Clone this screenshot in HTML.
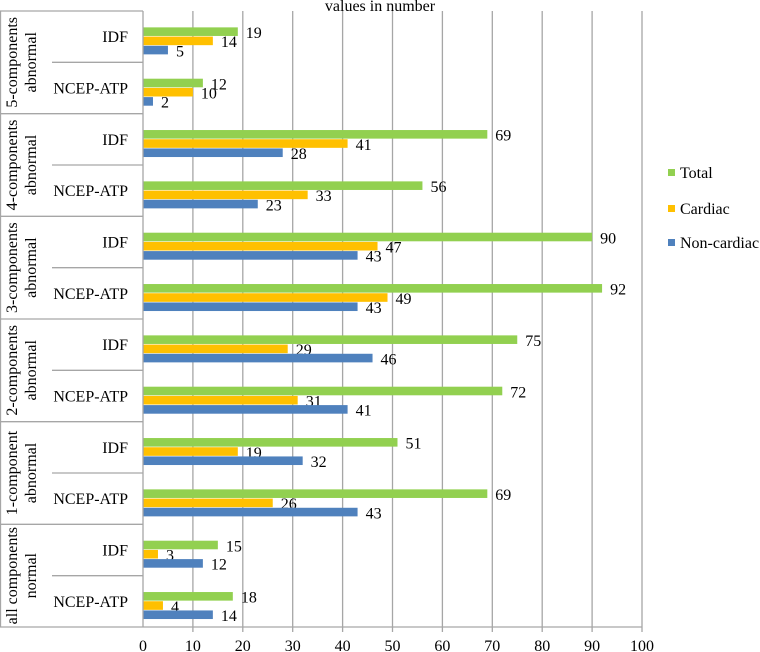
<!DOCTYPE html>
<html><head><meta charset="utf-8"><style>
body{margin:0;background:#fff;}
svg, svg text{font-family:"Liberation Serif","Times New Roman",serif;}
svg{display:block;}
</style></head><body>
<svg id="chart" width="760" height="652" viewBox="0 0 760 652" xmlns="http://www.w3.org/2000/svg" font-family="Liberation Serif, serif">
<text x="380" y="11" text-anchor="middle" font-size="16">values in number</text>
<g id="grid"></g><g id="cats"></g><g id="bars"></g><g id="axis"></g>
<g>
<rect x="668" y="169" width="7" height="7" fill="#92d050"/>
<text x="680" y="178" font-size="16">Total</text>
<rect x="668" y="205" width="7" height="7" fill="#ffc000"/>
<text x="680" y="214" font-size="16">Cardiac</text>
<rect x="668" y="239" width="7" height="7" fill="#4f81bd"/>
<text x="680" y="248" font-size="16">Non-cardiac</text>
</g>
</svg>
<script>
const groups=[["5-components","abnormal"],["4-components","abnormal"],["3-components","abnormal"],["2-components","abnormal"],["1-component","abnormal"],["all components","normal"]];
const subs=["IDF","NCEP-ATP"];
const total=[19,12,69,56,90,92,75,72,51,69,15,18];
const cardiac=[14,10,41,33,47,49,29,31,19,26,3,4];
const noncardiac=[5,2,28,23,43,43,46,41,32,43,12,14];
const ticks=[0,10,20,30,40,50,60,70,80,90,100];
const NS="http://www.w3.org/2000/svg";
const X0=143,X1=642,Y0=11,Y1=627,N=12,RH=(Y1-Y0)/N,BH=9.2;
const xs=v=>X0+(v/100)*(X1-X0);
function mk(tag,attrs,parent){const e=document.createElementNS(NS,tag);for(const k in attrs)e.setAttribute(k,attrs[k]);if(tag==='text')e.setAttribute('font-family','Liberation Serif, serif');parent.appendChild(e);return e;}
const grid=document.getElementById('grid'),cats=document.getElementById('cats'),bars=document.getElementById('bars'),axis=document.getElementById('axis');
ticks.forEach(t=>{
 if(t>0){const l=mk('line',{x1:xs(t),x2:xs(t),y1:Y0,y2:Y1+5,stroke:'#a6a6a6','stroke-width':1.3},grid);
 
 }
 const tx=mk('text',{x:xs(t),y:651,'text-anchor':'middle','font-size':16},axis);tx.textContent=t;
 
 
});
const ax=mk('line',{x1:X0,x2:X1,y1:Y1,y2:Y1,stroke:'#a6a6a6','stroke-width':1.3},axis);


const ay=mk('line',{x1:X0,x2:X0,y1:Y0,y2:Y1,stroke:'#a6a6a6','stroke-width':1.3},axis);


const bl=mk('line',{x1:0.5,x2:0.5,y1:Y0,y2:Y1,stroke:'#a6a6a6','stroke-width':1.3},cats);


for(let g=0;g<=groups.length;g++){
 const y=Y0+g*2*RH;
 const l=mk('line',{x1:0,x2:X0,y1:y,y2:y,stroke:'#a6a6a6','stroke-width':1.3},cats);
 
 
 if(g<groups.length){
  const l2=mk('line',{x1:52,x2:X0,y1:y+RH,y2:y+RH,stroke:'#a6a6a6','stroke-width':1.3},cats);
  
  
  const cy=y+RH;
  const t=mk('text',{transform:`translate(0,${cy}) rotate(-90)`,'text-anchor':'middle','font-size':16},cats);
  
  
  const a=mk('tspan',{x:0,y:17},t);a.textContent=groups[g][0];
  const b=mk('tspan',{x:0,y:36},t);b.textContent=groups[g][1];
 }
}
const series=[[total,'#92d050','total'],[cardiac,'#ffc000','cardiac'],[noncardiac,'#4f81bd','noncardiac']];
for(let i=0;i<N;i++){
 const rc=Y0+i*RH+RH/2+4.5;
 const st=mk('text',{x:128,y:rc+1,'text-anchor':'end','font-size':16},cats);st.textContent=subs[i%2];
 
 
 series.forEach((s,k)=>{
  const v=s[0][i];const y=rc-1.5*BH+k*BH;
  const r=mk('rect',{x:X0,y:y,width:xs(v)-X0,height:BH-0.6,fill:s[1]},bars);
  
  
  const t=mk('text',{x:xs(v)+8,y:y+BH/2+6,'font-size':16},bars);t.textContent=v;
  
  
 });
}
</script>
</body></html>
